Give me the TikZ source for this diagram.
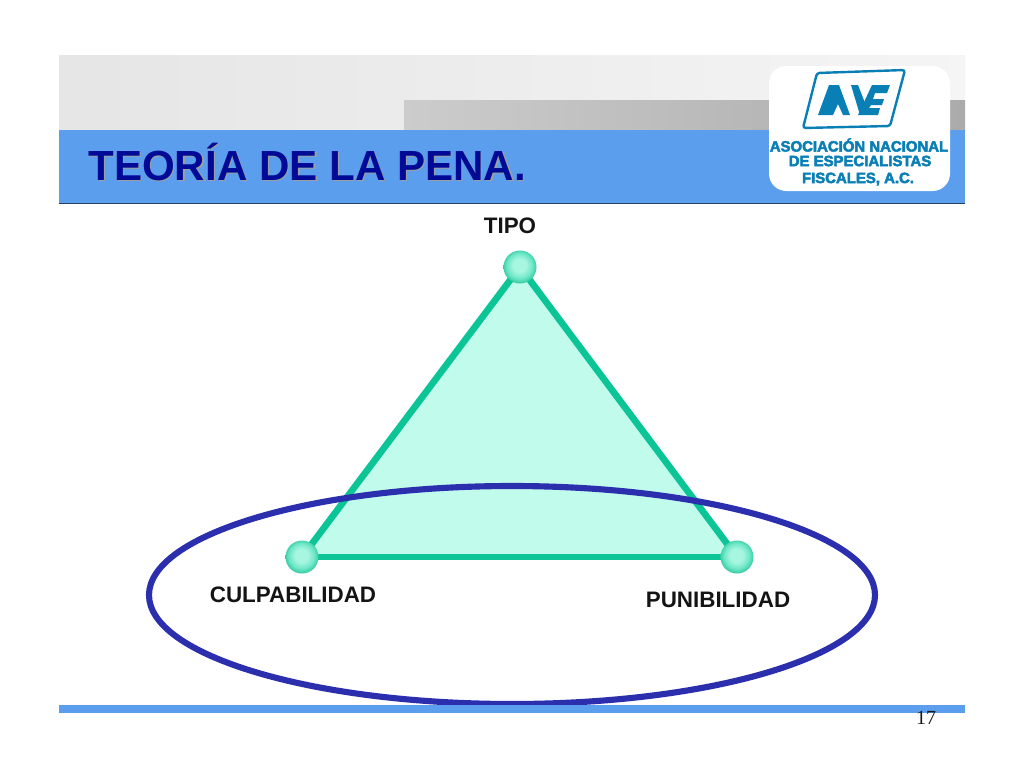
\documentclass[tikz,border=0pt]{standalone}
\usepackage{fontspec}
\setmainfont{Liberation Sans}
\newfontfamily\serifface{Liberation Serif}
\newfontfamily\logoface[FakeBold=3.2]{Liberation Sans Bold}
\usetikzlibrary{shadings}
\definecolor{hdrblue}{HTML}{5B9EEE}
\definecolor{titleblue}{HTML}{000A96}
\definecolor{tealline}{HTML}{0BC596}
\definecolor{tealfill}{HTML}{C1FBEC}
\definecolor{ringblue}{HTML}{2B2FAE}
\definecolor{logoblue}{HTML}{0A7FB5}
\definecolor{mintA}{HTML}{A8F5E0}
\definecolor{mintB}{HTML}{6FE8C8}
\definecolor{mintC}{HTML}{3CCFA8}
\pgfdeclareradialshading{mintball}{\pgfpoint{-1bp}{3bp}}{
  color(0bp)=(mintA);
  color(10bp)=(mintA);
  color(19bp)=(mintB);
  color(25bp)=(mintC);
  color(28bp)=(mintC!75!black);
  color(50bp)=(mintC!75!black)}
\tikzset{
  ball/.style={shading=mintball},
  side/.style={draw=tealline,line width=5pt},
  lab/.style={font=\bfseries\fontsize{16.8}{20}\selectfont,text=black!92,inner sep=0pt},
  logotxt/.style={font=\logoface\fontsize{11.2}{13}\selectfont,text=logoblue,inner sep=0pt},
  ttl/.style={font=\bfseries\fontsize{31.6}{38}\selectfont,inner sep=0pt,anchor=west}
}
\begin{document}
\begin{tikzpicture}[x=0.75pt,y=-0.75pt]
\useasboundingbox (0,0) rectangle (1024,768);
\fill[white] (0,0) rectangle (1024,768);
% header
\shade[left color=black!10,right color=black!4] (59,55) rectangle (965,130);
\shade[left color=black!20,right color=black!33] (404,100) rectangle (965,130);
\fill[hdrblue] (59,130) rectangle (965,203);
\draw[black!60!hdrblue,line width=0.7pt] (59,203) -- (965,203);
\node[ttl,text=black!38] (titleshadow) at (89.5,163.5) {TEORÍA DE LA PENA.};
\node[ttl,text=titleblue] (title) at (88,162) {TEORÍA DE LA PENA.};
% logo
\fill[white,rounded corners=13pt] (769,66) rectangle (950,191);
\draw[logoblue,line width=1.8pt,rounded corners=2pt] (817,73) -- (905,70) -- (890,126) -- (803,128) -- cycle;
\fill[logoblue] (818,115) -- (829,85) -- (839,85) -- (850,115) -- (843,115) -- (838,104) -- (833,115) -- cycle;
\fill[logoblue] (851,85) -- (858,85) -- (867,108) -- (860,115) -- cycle;
\fill[logoblue] (872,85) -- (890,85) -- (887,93) -- (875,93) -- (873,99) -- (884,99) -- (882,105) -- (871,105) -- (869,108) -- (880,108) -- (878,115) -- (858,115) -- cycle;
\node[logotxt] (l1) at (859,145) {ASOCIACIÓN NACIONAL};
\node[logotxt] (l2) at (860,161) {DE ESPECIALISTAS};
\node[logotxt] (l3) at (858,179) {FISCALES, A.C.};
% triangle
\coordinate (T) at (520,267);
\coordinate (L) at (302,557);
\coordinate (R) at (737,557);
\fill[tealfill] (T) -- (L) -- (R) -- cycle;
\draw[side] (T) -- (L);
\draw[side] (L) -- (R);
\draw[side] (R) -- (T);
\shade[ball] (T) circle (16.5);
\shade[ball] (L) circle (16.5);
\shade[ball] (R) circle (16.5);
\draw[ringblue,line width=4.6pt] (512,595) ellipse (363 and 109);
% labels
\node[lab] (tipo) at (510,226) {TIPO};
\node[lab] (culp) at (293,595) {CULPABILIDAD};
\node[lab] (puni) at (718,600) {PUNIBILIDAD};
% footer
\fill[hdrblue] (59,705) rectangle (965,713);
\node[font=\serifface\fontsize{15}{18}\selectfont,text=black!90,inner sep=0pt] (pg) at (926,718) {17};
\end{tikzpicture}
\end{document}
